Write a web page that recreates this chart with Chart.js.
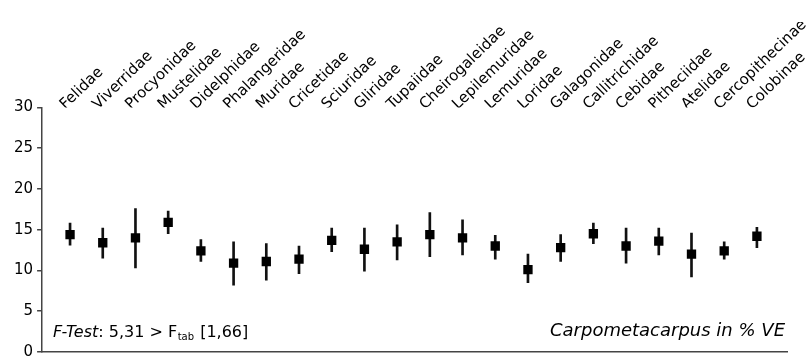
<!DOCTYPE html>
<html>
<head>
<meta charset="utf-8">
<script src="https://cdn.jsdelivr.net/npm/chart.js@4/dist/chart.umd.min.js"></script>
<style>
  html, body { margin: 0; padding: 0; background: #fff; }
  #wrap { width: 810px; height: 360px; position: relative; }
</style>
</head>
<body>
<div id="wrap"><canvas id="c"></canvas></div>
<script>
// Families, in plotting order
const families = ['Felidae', 'Viverridae', 'Procyonidae', 'Mustelidae', 'Didelphidae',
  'Phalangeridae', 'Muridae', 'Cricetidae', 'Sciuridae', 'Gliridae', 'Tupaiidae',
  'Cheirogaleidae', 'Lepilemuridae', 'Lemuridae', 'Loridae', 'Galagonidae',
  'Callitrichidae', 'Cebidae', 'Pitheciidae', 'Atelidae', 'Cercopithecinae', 'Colobinae'];

// Mean carpometacarpus length (% VE)
const means = [14.4, 13.4, 14.0, 15.9, 12.4, 10.9, 11.1, 11.4, 13.7, 12.6, 13.5,
  14.4, 14.0, 13.0, 10.1, 12.8, 14.5, 13.0, 13.6, 12.0, 12.4, 14.2];
// Lower and upper end of each spread bar
const lower = [13.1, 11.5, 10.3, 14.5, 11.1, 8.2, 8.8, 9.6, 12.3, 9.9, 11.3,
  11.7, 11.9, 11.4, 8.5, 11.1, 13.3, 10.9, 11.9, 9.2, 11.4, 12.8];
const upper = [15.8, 15.2, 17.6, 17.3, 13.8, 13.5, 13.3, 13.0, 15.2, 15.2, 15.6,
  17.1, 16.2, 14.3, 12.0, 14.4, 15.8, 15.2, 15.2, 14.6, 13.5, 15.3];

const yTicks = [0, 5, 10, 15, 20, 25, 30];

const FONT = "'DejaVu Sans', Verdana, sans-serif";
const X_MIN = -0.855, X_MAX = 21.92;

// Annotation texts at the foot of the plot
const notes = {
  id: 'notes',
  afterDraw(chart) {
    const { ctx, chartArea } = chart;
    ctx.save();
    ctx.fillStyle = '#000';
    ctx.textBaseline = 'alphabetic';
    let x = chartArea.left + 11;
    const y = chartArea.bottom - 15;
    ctx.font = 'italic 16px ' + FONT;
    ctx.fillText('F-Test', x, y);
    x += ctx.measureText('F-Test').width;
    ctx.font = '16px ' + FONT;
    const t1 = ': 5,31 > F';
    ctx.fillText(t1, x, y);
    x += ctx.measureText(t1).width;
    ctx.font = '10px ' + FONT;
    ctx.fillText('tab', x + 0.5, y + 3);
    x += ctx.measureText('tab').width + 1.5;
    ctx.font = '16px ' + FONT;
    ctx.fillText(' [1,66]', x, y);

    ctx.font = 'italic 18px ' + FONT;
    ctx.textAlign = 'right';
    ctx.fillText('Carpometacarpus in % VE', chartArea.right - 2, chartArea.bottom - 16);
    ctx.restore();
  }
};

function pinRange(axis) {
  axis.min = X_MIN;
  axis.max = X_MAX;
}

new Chart(document.getElementById('c'), {
  type: 'bar',
  data: {
    datasets: [
      {
        type: 'bar',
        label: 'Spread',
        data: families.map((f, i) => ({ x: i, y: [lower[i], upper[i]] })),
        backgroundColor: '#111',
        barThickness: 2,
        grouped: false,
        order: 2
      },
      {
        type: 'scatter',
        label: 'Mean',
        data: families.map((f, i) => ({ x: i, y: means[i] })),
        pointStyle: 'rect',
        pointRadius: 6.6,
        pointHoverRadius: 6.6,
        backgroundColor: '#000',
        borderColor: '#000',
        borderWidth: 0,
        order: 1
      }
    ]
  },
  options: {
    responsive: true,
    maintainAspectRatio: false,
    animation: false,
    devicePixelRatio: 1,
    layout: { padding: { left: 10, right: 23, top: 22, bottom: 8 } },
    plugins: { legend: { display: false }, tooltip: { enabled: false } },
    scales: {
      x: {
        type: 'linear',
        position: 'top',
        offset: false,
        min: X_MIN,
        max: X_MAX,
        afterBuildTicks(axis) {
          axis.ticks = families.map((f, i) => ({ value: i }));
          pinRange(axis);
        },
        afterFit(axis) { axis.paddingLeft = 0; axis.paddingRight = 0; },
        ticks: {
          autoSkip: false,
          minRotation: 44,
          maxRotation: 44,
          padding: -6,
          labelOffset: 5,
          color: '#000',
          font: { family: FONT, size: 15 },
          callback: (v) => families[v] ?? ''
        },
        grid: { display: false, drawTicks: false, offset: false },
        border: { display: false }
      },
      x2: {
        type: 'linear',
        position: 'bottom',
        offset: false,
        min: X_MIN,
        max: X_MAX,
        afterBuildTicks: pinRange,
        afterFit(axis) { axis.height = 0; axis.paddingLeft = 0; axis.paddingRight = 0; },
        ticks: { display: false },
        grid: { display: false, drawTicks: false, offset: false },
        border: { display: true, color: '#444', width: 1.5 }
      },
      y: {
        min: 0,
        max: 30,
        afterBuildTicks(axis) { axis.ticks = yTicks.map(v => ({ value: v })); },
        afterFit(axis) { axis.paddingTop = 0; axis.paddingBottom = 0; },
        ticks: {
          color: '#000',
          padding: 4,
          font: { family: FONT, size: 15 }
        },
        grid: { drawOnChartArea: false, drawTicks: true, tickLength: 5, color: '#444', lineWidth: 1.5 },
        border: { display: true, color: '#444', width: 1.5 }
      }
    }
  },
  plugins: [notes]
});
</script>
</body>
</html>
